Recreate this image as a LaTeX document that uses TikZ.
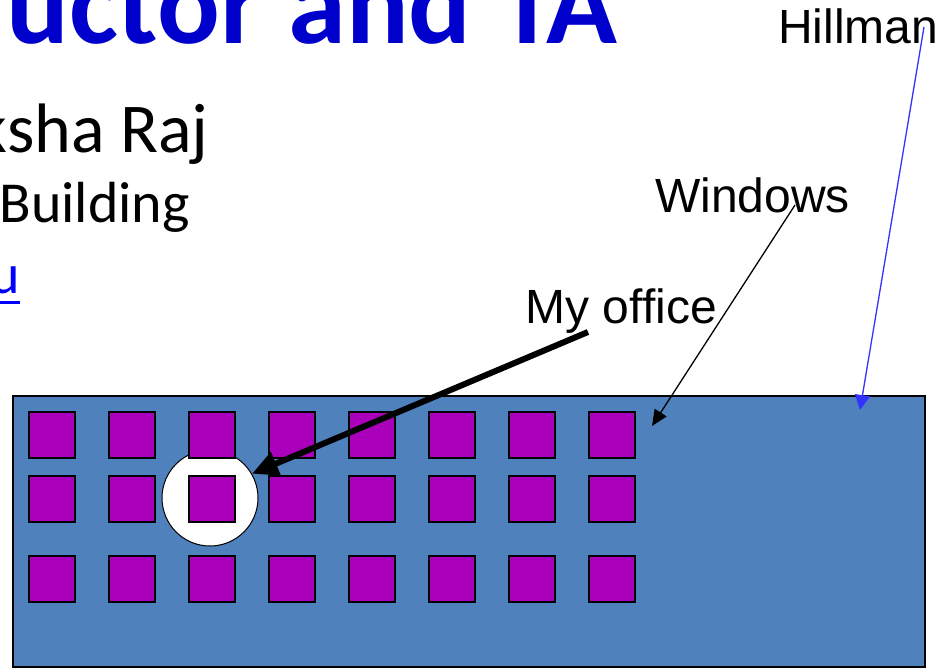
\documentclass[tikz,border=0pt]{standalone}
\usepackage{fontspec}
\setmainfont{Carlito}
\newfontfamily\labelfont{Liberation Sans}
\usetikzlibrary{arrows.meta}

\definecolor{titleblue}{RGB}{0,0,204}
\definecolor{linkblue}{RGB}{0,0,255}
\definecolor{wallblue}{RGB}{79,129,189}
\definecolor{winpurple}{RGB}{170,0,187}
\definecolor{pointerblue}{RGB}{51,51,255}

\tikzset{
    slidetext/.style={inner sep=0pt, anchor=base west},
    tag/.style={inner sep=0pt, anchor=base west, font=\labelfont\fontsize{48}{56}\selectfont},
    window/.style={draw=black, line width=1.6pt, fill=winpurple, minimum size=46.5pt, inner sep=0pt},
}

\begin{document}
\begin{tikzpicture}[x=1pt, y=-1pt]
    \useasboundingbox (0,0) rectangle (945,667);
    \clip (0,0) rectangle (945,667);

    % slide text, cut at the left edge
    \node[slidetext, text=titleblue, font=\bfseries\fontsize{117}{130}\selectfont] (title) at (6,43) {uctor and TA};
    \node[slidetext, anchor=base east, font=\fontsize{70}{84}\selectfont] (name) at (209,152) {ksha Raj};
    \node[slidetext, anchor=base east, font=\fontsize{58}{68}\selectfont] (room) at (190,222) {Building};
    \node[slidetext, anchor=base east, text=linkblue, font=\fontsize{56}{66}\selectfont] (mail) at (20,293) {u};
    \draw[linkblue, line width=3pt] ([yshift=-9pt]mail.base west) -- ([yshift=-9pt]mail.base east);

    % the building
    \node[draw=black, line width=2pt, fill=wallblue, anchor=north west,
          minimum width=912pt, minimum height=271pt, inner sep=0pt] (bldg) at (12,395) {};
    \node[circle, draw=black, line width=1pt, fill=white, minimum size=96pt, inner sep=0pt] (spot) at (210,498) {};
    \foreach \c in {0,...,7} {
        \node[window] (win-\c-1) at (52+80*\c,435) {};
        \node[window] (win-\c-2) at (52+80*\c,499) {};
        \node[window] (win-\c-3) at (52+80*\c,579) {};
    }

    % labels
    \node[tag] (hillman) at (778,43) {Hillman};
    \node[tag] (windows) at (655,212) {Windows};
    \node[tag] (office) at (525.5,323) {My office};

    \coordinate (hillmanTail) at (924,27);
    \coordinate (hillmanTip) at (860,410);
    \coordinate (windowsTail) at (795,205);
    \coordinate (windowsTip) at (652,426);
    \coordinate (officeTail) at (588,332);

    \draw[pointerblue, line width=1.3pt, -{Triangle[length=15pt, width=15pt]}] (hillmanTail) -- (hillmanTip);
    \draw[black, line width=1.3pt, -{Triangle[length=16pt, width=14pt]}] (windowsTail) -- (windowsTip);
    \draw[black, line width=6pt, -{Triangle[length=26pt, width=24pt]}] (officeTail) -- (spot.30);
\end{tikzpicture}
\end{document}
